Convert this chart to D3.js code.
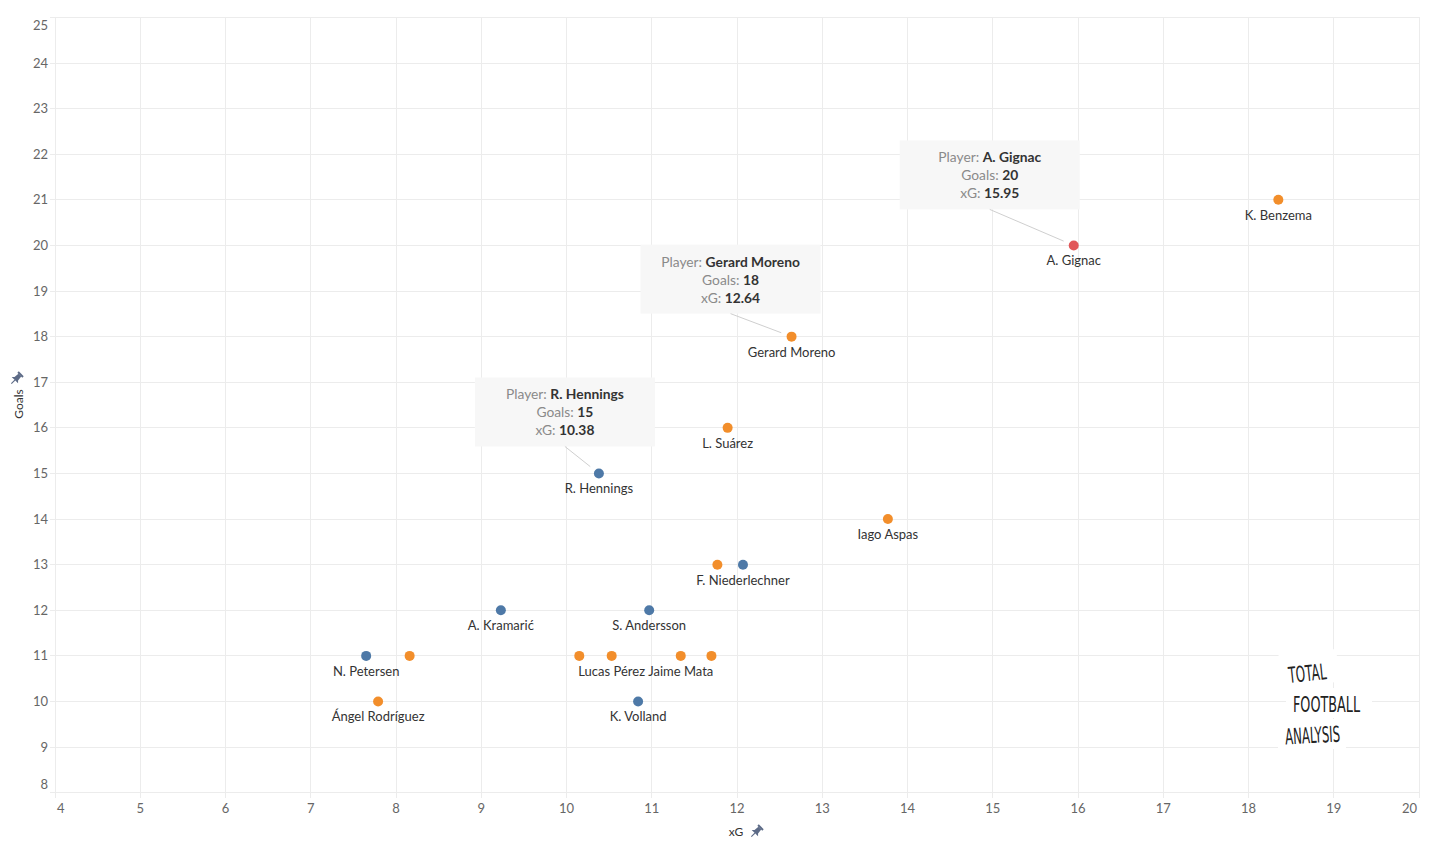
<!DOCTYPE html>
<html>
<head>
<meta charset="utf-8">
<script src="https://cdn.jsdelivr.net/npm/d3@7"></script>
<style>
  html, body { margin: 0; padding: 0; background: #fff; }
  svg { display: block; font-family: Lato, "Open Sans", sans-serif; }
</style>
</head>
<body>
<svg id="chart" width="1431" height="850"></svg>
<script>
// ---- data ----
const players = ["K. Benzema", "A. Gignac", "Gerard Moreno", "L. Suárez", "R. Hennings", "Iago Aspas",
  "", "F. Niederlechner", "A. Kramarić", "S. Andersson", "N. Petersen", "",
  "", "Lucas Pérez", "Jaime Mata", "", "Ángel Rodríguez", "K. Volland"];
const xgValues = [18.35, 15.95, 12.64, 11.89, 10.38, 13.77,
  11.77, 12.07, 9.23, 10.97, 7.65, 8.16,
  10.15, 10.53, 11.34, 11.70, 7.79, 10.84];
const goalValues = [21, 20, 18, 16, 15, 14,
  13, 13, 12, 12, 11, 11,
  11, 11, 11, 11, 10, 10];
const groups = ["orange", "red", "orange", "orange", "blue", "orange",
  "orange", "blue", "blue", "blue", "blue", "orange",
  "orange", "orange", "orange", "orange", "orange", "blue"];
const xTicks = d3.range(4, 21);
const yTicks = d3.range(8, 26);
const calloutPlayers = ["A. Gignac", "Gerard Moreno", "R. Hennings"];

// ---- layout / style ----
const colors = { orange: "#f28e2b", blue: "#4e79a7", red: "#e15759" };
const calloutOffsets = [[-84, -105], [-61, -92], [-34, -96]];
const svg = d3.select("#chart");
const x = d3.scaleLinear().domain([4, 20]).range([55, 1419]);
const y = d3.scaleLinear().domain([8, 25]).range([792.7, 17.4]);
const gridColor = "#ececec";

// grid
const grid = svg.append("g");
grid.selectAll("line.v").data(xTicks).join("line")
  .attr("x1", d => x(d)).attr("x2", d => x(d))
  .attr("y1", y(25)).attr("y2", y(8) + 5)
  .attr("stroke", gridColor).attr("stroke-width", 1).attr("shape-rendering", "crispEdges");
grid.selectAll("line.h").data(yTicks).join("line")
  .attr("x1", x(4) - 5).attr("x2", x(20))
  .attr("y1", d => y(d)).attr("y2", d => y(d))
  .attr("stroke", gridColor).attr("stroke-width", 1).attr("shape-rendering", "crispEdges");

// tick labels
svg.append("g").selectAll("text").data(xTicks).join("text")
  .attr("x", (d, i) => i === 0 ? x(d) + 2 : (i === xTicks.length - 1 ? x(d) - 2 : x(d)))
  .attr("y", 813)
  .attr("text-anchor", (d, i) => i === 0 ? "start" : (i === xTicks.length - 1 ? "end" : "middle"))
  .attr("font-size", 13).attr("fill", "#666")
  .text(d => d);
svg.append("g").selectAll("text").data(yTicks).join("text")
  .attr("x", 48)
  .attr("y", d => d === 25 ? y(d) + 12.5 : (d === 8 ? y(d) - 4 : y(d) + 4.5))
  .attr("text-anchor", "end")
  .attr("font-size", 13).attr("fill", "#666")
  .text(d => d);

// pin icon
function pin(g, cx, cy) {
  const p = g.append("g").attr("transform", `translate(${cx},${cy}) rotate(45)`).attr("fill", "#5d6b87");
  p.append("rect").attr("x", -3.5).attr("y", -6).attr("width", 7).attr("height", 2);
  p.append("path").attr("d", "M-2,-4 L2,-4 L2.5,1 L4.5,3 L-4.5,3 L-2.5,1 Z");
  p.append("rect").attr("x", -0.6).attr("y", 3).attr("width", 1.2).attr("height", 5);
}

// axis titles
svg.append("text").attr("transform", "translate(23,404) rotate(-90)")
  .attr("text-anchor", "middle").attr("font-size", 12).attr("fill", "#333").text("Goals");
pin(svg, 17, 378);
svg.append("text").attr("x", 736).attr("y", 836)
  .attr("text-anchor", "middle").attr("font-size", 12).attr("fill", "#333").text("xG");
pin(svg, 757, 831);

// data table
const data = players.map((p, i) => ({ name: p, xg: xgValues[i], goals: goalValues[i], grp: groups[i] }));

// callouts
calloutPlayers.forEach((name, i) => {
  const d = data.find(e => e.name === name);
  const px = x(d.xg), py = y(d.goals);
  const cx = px + calloutOffsets[i][0], top = py + calloutOffsets[i][1];
  const w = 180, h = 69;
  const g = svg.append("g");
  g.append("rect").attr("x", cx - w / 2).attr("y", top).attr("width", w).attr("height", h).attr("fill", "#f7f7f7");
  // leader
  const bx = cx, by = top + h;
  const dx = px - bx, dy = py - by, len = Math.hypot(dx, dy);
  const k = (len - 11) / len;
  g.append("line").attr("x1", bx).attr("y1", by).attr("x2", bx + dx * k).attr("y2", by + dy * k)
    .attr("stroke", "#cfcfcf").attr("stroke-width", 1);
  const lines = [["Player: ", d.name], ["Goals: ", d.goals], ["xG: ", d3.format(".2f")(d.xg)]];
  lines.forEach((ln, j) => {
    const t = g.append("text").attr("x", cx).attr("y", top + 22 + j * 18)
      .attr("text-anchor", "middle").attr("font-size", 13.8);
    t.append("tspan").attr("fill", "#8a8a8a").text(ln[0]);
    t.append("tspan").attr("fill", "#333").attr("font-weight", "bold").text(ln[1]);
  });
});

// points
svg.append("g").selectAll("circle").data(data).join("circle")
  .attr("cx", d => x(d.xg)).attr("cy", d => y(d.goals)).attr("r", 5)
  .attr("fill", d => colors[d.grp]);

// labels
svg.append("g").selectAll("text").data(data.filter(d => d.name)).join("text")
  .attr("x", d => x(d.xg)).attr("y", d => y(d.goals) + 20)
  .attr("text-anchor", "middle").attr("font-size", 13).attr("fill", "#333")
  .text(d => d.name);

// logo
const logo = svg.append("g").attr("font-family", "'DejaVu Sans Condensed', 'DejaVu Sans', sans-serif").attr("fill", "#222");
logo.append("rect").attr("x", 1280).attr("y", 652).attr("width", 58).attr("height", 33).attr("fill", "#fff").attr("transform", "rotate(-6 1308 668)");
logo.append("rect").attr("x", 1286).attr("y", 688).attr("width", 86).attr("height", 30).attr("fill", "#fff");
logo.append("rect").attr("x", 1278).attr("y", 719).attr("width", 68).attr("height", 30).attr("fill", "#fff");
logo.append("text").attr("x", 1288).attr("y", 681).attr("font-size", 22).attr("textLength", 38)
  .attr("lengthAdjust", "spacingAndGlyphs").attr("transform", "rotate(-6 1307 670)").text("TOTAL");
logo.append("text").attr("x", 1293).attr("y", 712).attr("font-size", 22).attr("textLength", 67)
  .attr("lengthAdjust", "spacingAndGlyphs").text("FOOTBALL");
logo.append("text").attr("x", 1285).attr("y", 743).attr("font-size", 22).attr("textLength", 55)
  .attr("lengthAdjust", "spacingAndGlyphs").attr("transform", "rotate(-3 1312 733)").text("ANALYSIS");
</script>
</body>
</html>
